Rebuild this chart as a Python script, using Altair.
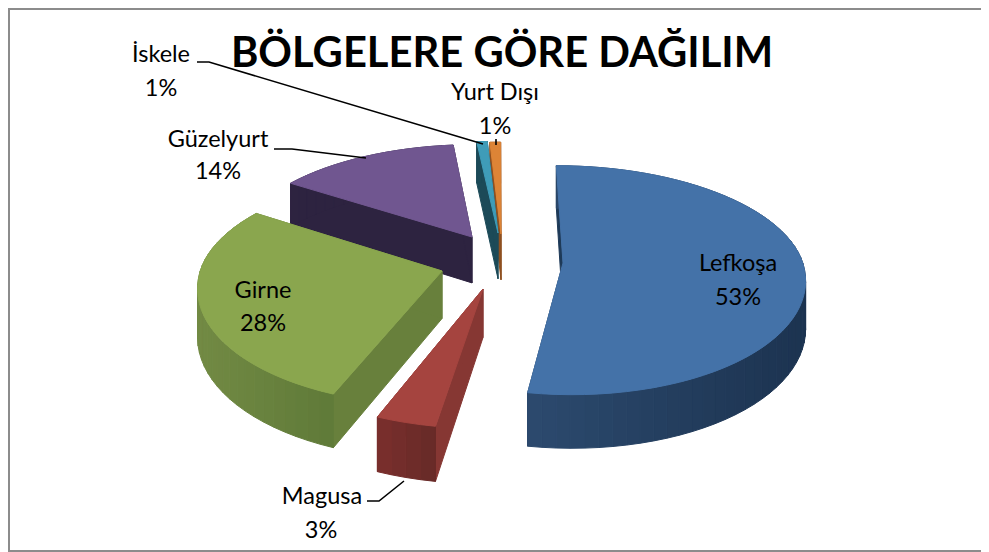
import math
import altair as alt
import pandas as pd

# ---- values (labels show them rounded) ----
categories = ["Lefkoşa", "Magusa", "Girne", "Güzelyurt", "İskele", "Yurt Dışı"]
shares = [52.6, 3.49, 28.3, 14.0, 0.8, 0.81]
title_text = "BÖLGELERE GÖRE DAĞILIM"

# ---- style / layout (page pixels) ----
W, H = 973, 544
TOP = ["#4472a8", "#a5443f", "#8aa64e", "#705690", "#3f9cb8", "#dd8436"]
EDGE = ["#1e3a58", "#863733", "#68803c", "#2d2340", "#1c4a58", "#8e5020"]
WALL_A = ["#2c4a6e", "#7a2f2d", "#728a44", "#2d2340", "#1c4a58", "#8e5020"]
WALL_B = ["#1c3350", "#672a27", "#5f7a38", "#2d2340", "#1c4a58", "#8e5020"]
APEX = [(563, 263), (483, 289), (442, 271), (472, 237), (498, 233), (501, 234)]
CX, CY, A0, B_BACK, B_FRONT, P, DZ = 497, 280, 244, 112, 120, 0.12, 48
B0 = 118

label_xy = [(738, 264, 738, 298), (322, 497, 321, 531), (263, 291, 263, 324),
            (218, 140, 218, 172), (161, 55, 161, 89), (495, 93, 495, 127)]
leaders = {"İskele": [(197, 62), (209, 62), (483, 144)],
           "Güzelyurt": [(274, 149), (292, 149), (366, 158)],
           "Magusa": [(367, 501), (379, 501), (404, 481)],
           "Yurt Dışı": [(496, 139), (496, 145)]}
frame = [(981, 9), (9, 9), (9, 551), (981, 551)]


def hexmix(a, b, t):
    ca = [int(a[i:i + 2], 16) for i in (1, 3, 5)]
    cb = [int(b[i:i + 2], 16) for i in (1, 3, 5)]
    return "#%02x%02x%02x" % tuple(round(x + (y - x) * t) for x, y in zip(ca, cb))


def project(X, Y, down=0.0):
    s = 1 / (1 - P * Y / B0)
    return CX + s * X, CY + s * Y + s * down


def unproject(sx, sy):
    d = sy - CY
    Y = d / (1 + P * d / B0)
    s = 1 / (1 - P * Y / B0)
    return (sx - CX) / s, Y


rows = []
pid = 0


def poly(points, fill):
    global pid
    pid += 1
    for k, (x, y) in enumerate(points):
        rows.append({"pid": f"{pid:05d}", "k": k, "x": x, "y": y, "fill": fill})


total = sum(shares)
starts = [sum(shares[:i]) / total * 2 * math.pi for i in range(len(shares))]
draw_order = [5, 4, 3, 2, 0, 1]
for i in draw_order:
    a0 = starts[i]
    a1 = a0 + shares[i] / total * 2 * math.pi
    X0, Y0 = unproject(*APEX[i])
    n = max(2, int(shares[i] * 1.2))
    arc = []
    for j in range(n + 1):
        a = a0 + (a1 - a0) * j / n
        c = math.cos(a)
        arc.append((X0 + A0 * math.sin(a), Y0 - (B_BACK if c > 0 else B_FRONT) * c))
    # radial walls
    for end in (arc[0], arc[-1]):
        poly([project(X0, Y0), project(*end), project(*end, DZ), project(X0, Y0, DZ)], EDGE[i])
    # outer wall strips (coloured left to right along the screen)
    xs = [project(*p)[0] for p in arc]
    lo, hi = min(xs), max(xs)
    for j in range(n):
        t = ((xs[j] + xs[j + 1]) / 2 - lo) / max(hi - lo, 1)
        poly([project(*arc[j]), project(*arc[j + 1]),
              project(*arc[j + 1], DZ), project(*arc[j], DZ)],
             hexmix(WALL_A[i], WALL_B[i], t))
    # top face
    poly([project(X0, Y0)] + [project(*p) for p in arc], TOP[i])

x_scale = alt.Scale(domain=[8, 8 + W], range=[0, W])
y_scale = alt.Scale(domain=[8 + H, 8], range=[H, 0])
X = alt.X("x:Q", scale=x_scale, axis=None)
Y = alt.Y("y:Q", scale=y_scale, axis=None)

faces = alt.Chart(pd.DataFrame(rows)).mark_line(
    interpolate="linear-closed", strokeWidth=1.0, clip=True
).encode(
    x=X, y=Y, order="k:Q",
    detail="pid:N",
    fill=alt.Fill("fill:N", scale=None),
    stroke=alt.Stroke("fill:N", scale=None),
)

lead_rows = []
for name, pts in leaders.items():
    for k, (x, y) in enumerate(pts):
        lead_rows.append({"name": name, "k": k, "x": x, "y": y})
lead = alt.Chart(pd.DataFrame(lead_rows)).mark_line(color="#000000", strokeWidth=1.6).encode(
    x=X, y=Y, detail="name:N", order="k:Q")

frame_df = pd.DataFrame([{"k": k, "x": x, "y": y} for k, (x, y) in enumerate(frame)])
border = alt.Chart(frame_df).mark_line(color="#8c8c8c", strokeWidth=2).encode(
    x=X, y=Y, order="k:Q")

text_rows = []
for c, v, (x1, y1, x2, y2) in zip(categories, shares, label_xy):
    text_rows.append({"t": c, "x": x1, "y": y1})
    text_rows.append({"t": f"{round(v)}%", "x": x2, "y": y2})
labels = alt.Chart(pd.DataFrame(text_rows)).mark_text(
    font="Lato", fontSize=23.5, color="#000000", align="center", baseline="middle"
).encode(x=X, y=Y, text="t:N")

title = alt.Chart(pd.DataFrame([{"t": title_text, "x": 502, "y": 54}])).mark_text(
    font="Lato", fontSize=41.7, fontWeight="bold", color="#000000", align="center", baseline="middle"
).encode(x=X, y=Y, text="t:N")

chart = alt.layer(border, faces, lead, labels, title).properties(
    width=W, height=H, padding=0, autosize=alt.AutoSizeParams(type="none"),
    background="#ffffff"
).configure_view(stroke=None)

chart.save("out.html", embed_options={"renderer": "svg", "actions": False})
